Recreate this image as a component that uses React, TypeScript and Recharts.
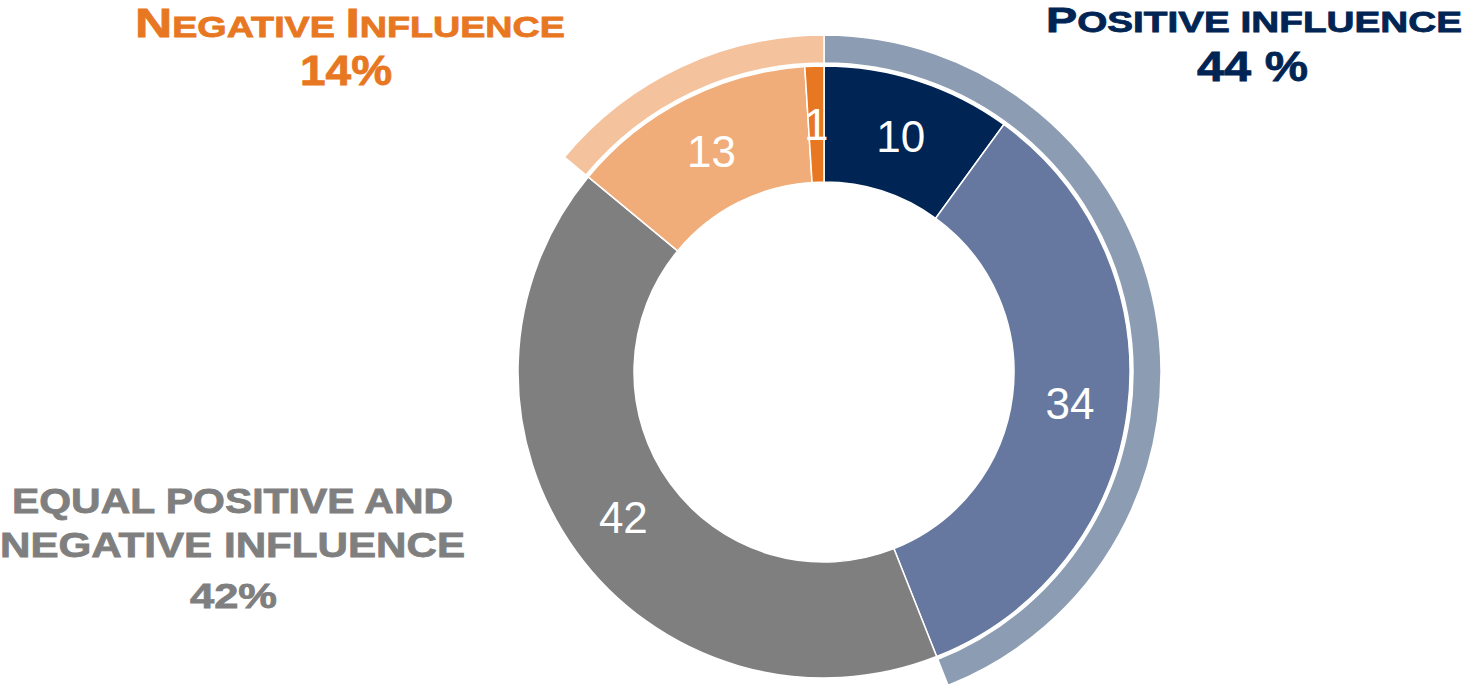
import React from 'react';
import { PieChart, Pie, Cell } from 'recharts';

// inner ring, clockwise from the top
const segmentNames = ['Very positive', 'Positive', 'Equal', 'Negative', 'Very negative'];
const segmentValues = [10, 34, 42, 13, 1];
const segmentColors = ['#002554', '#66789f', '#7f7f7f', '#f0ad7a', '#e87722'];

// outer ring groups
const groupNames = ['Positive influence', 'Equal positive and negative influence', 'Negative influence'];
const groupValues = [44, 42, 14];
const groupColors = ['#8c9db3', 'none', '#f4c39d'];

const innerData = segmentNames.map((name, i) => ({ name, value: segmentValues[i] }));
const outerData = groupNames.map((name, i) => ({ name, value: groupValues[i] }));

const W = 1463;
const H = 684;
const CX = 824;
const CY = 372;
const RAD = Math.PI / 180;

const font = '"Liberation Sans", Arial, sans-serif';

const renderValue = (props: any) => {
  const { cx, cy, midAngle, innerRadius, outerRadius, value } = props;
  const r = (innerRadius + outerRadius) / 2;
  const x = cx + r * Math.cos(-midAngle * RAD);
  const y = cy + r * Math.sin(-midAngle * RAD);
  return (
    <text
      x={x}
      y={y}
      fill="#ffffff"
      fontFamily={font}
      fontSize={44}
      textAnchor="middle"
      dominantBaseline="central"
    >
      {value}
    </text>
  );
};

export default function App() {
  return (
    <div style={{ position: 'absolute', left: 0, top: 0, width: W, height: H, background: '#fff' }}>
      <PieChart width={W} height={H} margin={{ top: 0, right: 0, bottom: 0, left: 0 }}>
        <Pie
          data={outerData}
          dataKey="value"
          cx={CX}
          cy={CY}
          innerRadius={309}
          outerRadius={337}
          startAngle={90}
          endAngle={-270}
          isAnimationActive={false}
        >
          {outerData.map((d, i) => (
            <Cell
              key={d.name}
              fill={groupColors[i]}
              stroke={groupColors[i] === 'none' ? 'none' : '#ffffff'}
              strokeWidth={1.5}
            />
          ))}
        </Pie>
        <Pie
          data={innerData}
          dataKey="value"
          cx={CX}
          cy={CY}
          innerRadius={190}
          outerRadius={306}
          startAngle={90}
          endAngle={-270}
          isAnimationActive={false}
          label={renderValue}
          labelLine={false}
        >
          {innerData.map((d, i) => (
            <Cell key={d.name} fill={segmentColors[i]} stroke="#ffffff" strokeWidth={1.5} />
          ))}
        </Pie>
      </PieChart>

      <svg
        width={W}
        height={H}
        style={{ position: 'absolute', left: 0, top: 0, pointerEvents: 'none' }}
        fontFamily={font}
        fontWeight="bold"
        strokeWidth={0.8}
      >
        {/* positive */}
        <text x={1046} y={32} fill="#002554" stroke="#002554" textLength={416} lengthAdjust="spacingAndGlyphs">
          <tspan fontSize={35}>P</tspan>
          <tspan fontSize={29}>OSITIVE INFLUENCE</tspan>
        </text>
        <text x={1197} y={81} fill="#002554" stroke="#002554" fontSize={43} textLength={111} lengthAdjust="spacingAndGlyphs">
          44 %
        </text>

        {/* negative */}
        <text x={135} y={37} fill="#e87722" stroke="#e87722" textLength={430} lengthAdjust="spacingAndGlyphs">
          <tspan fontSize={41}>N</tspan>
          <tspan fontSize={30}>EGATIVE </tspan>
          <tspan fontSize={41}>I</tspan>
          <tspan fontSize={30}>NFLUENCE</tspan>
        </text>
        <text x={300} y={85} fill="#e87722" stroke="#e87722" fontSize={42} textLength={92} lengthAdjust="spacingAndGlyphs">
          14%
        </text>

        {/* equal */}
        <text x={12} y={513} fill="#7f7f7f" stroke="#7f7f7f" fontSize={35} textLength={441} lengthAdjust="spacingAndGlyphs">
          EQUAL POSITIVE AND
        </text>
        <text x={0} y={557} fill="#7f7f7f" stroke="#7f7f7f" fontSize={35} textLength={465} lengthAdjust="spacingAndGlyphs">
          NEGATIVE INFLUENCE
        </text>
        <text x={190} y={608} fill="#7f7f7f" stroke="#7f7f7f" fontSize={35} textLength={87} lengthAdjust="spacingAndGlyphs">
          42%
        </text>
      </svg>
    </div>
  );
}
